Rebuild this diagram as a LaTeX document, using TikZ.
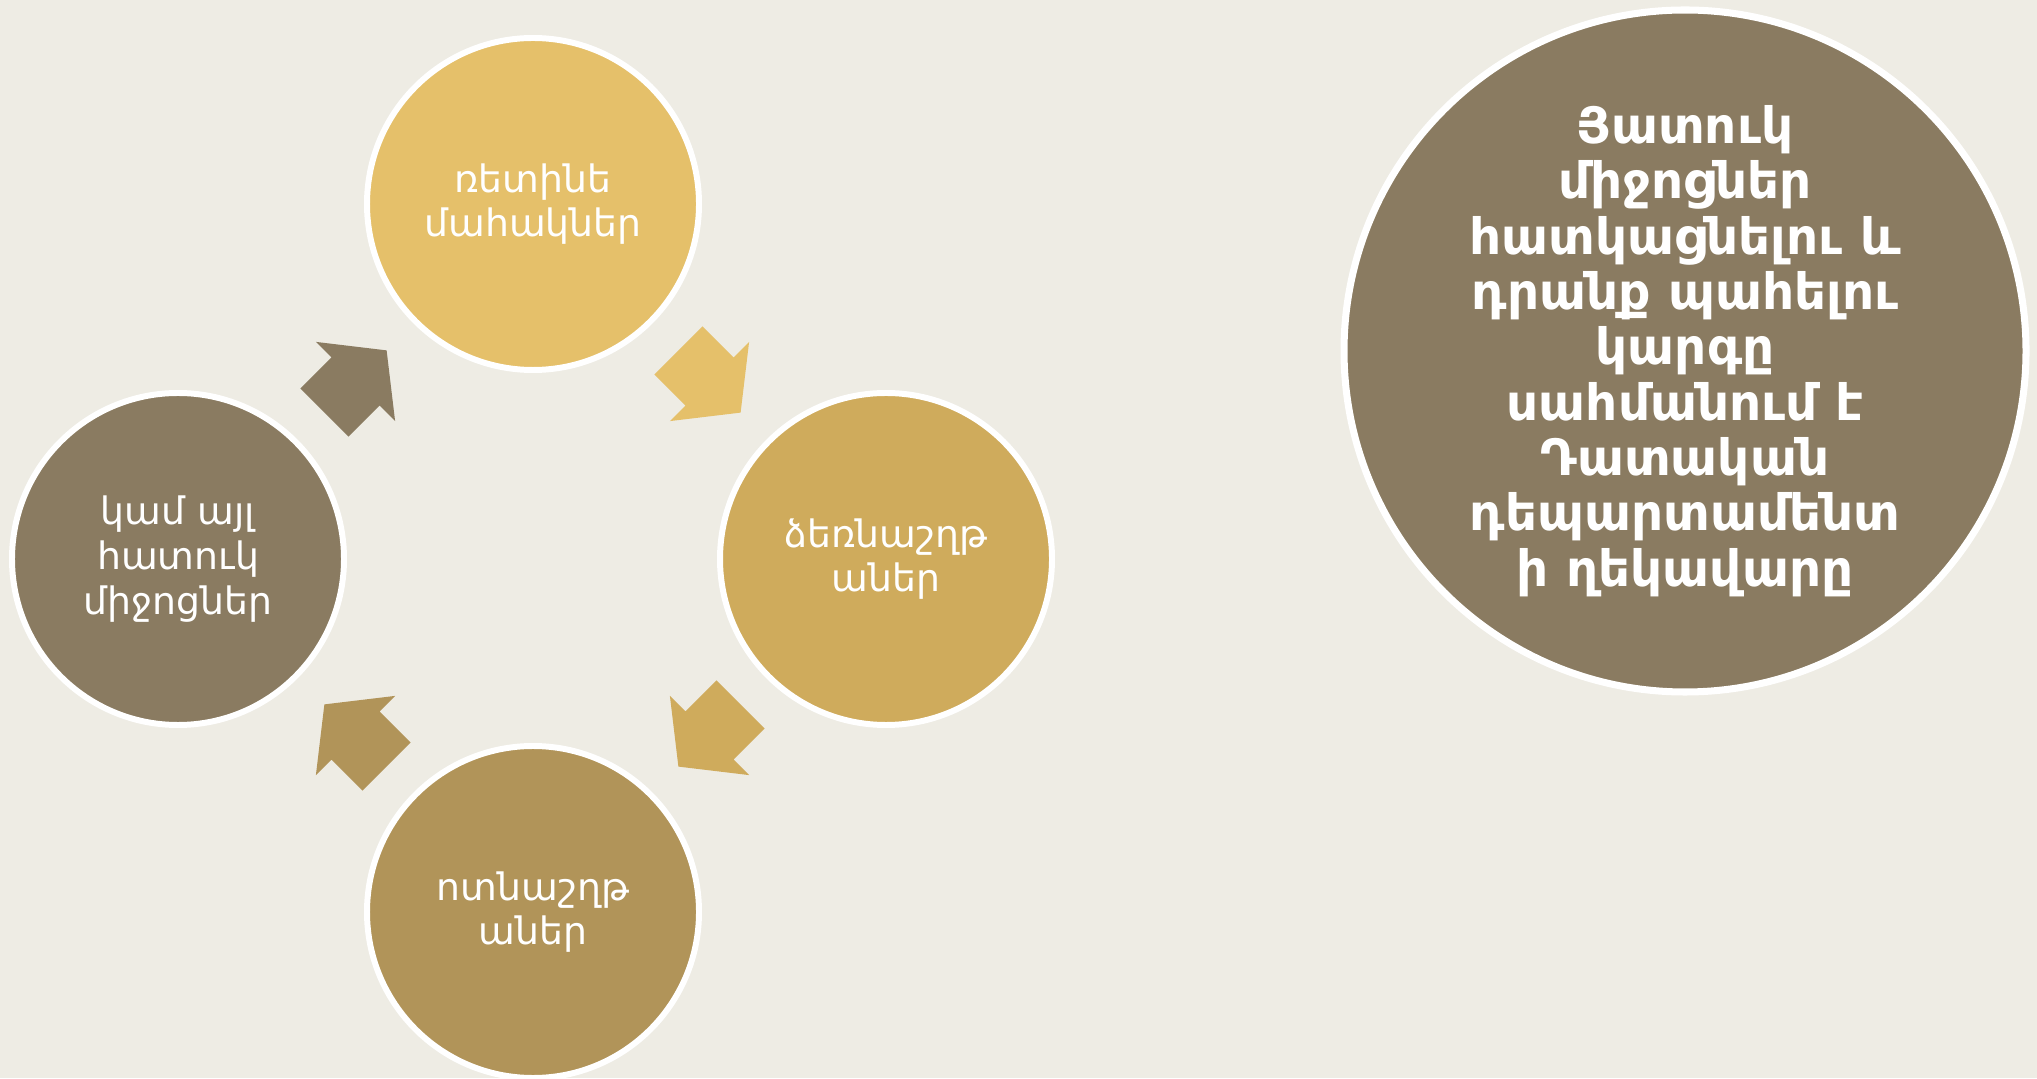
\documentclass[tikz,border=0pt]{standalone}
\usepackage{fontspec}
\setmainfont{DejaVu Sans}
\definecolor{bgcream}{RGB}{238,236,228}
\definecolor{goldlight}{RGB}{229,192,106}
\definecolor{goldmid}{RGB}{207,171,92}
\definecolor{golddark}{RGB}{177,148,89}
\definecolor{greybrown}{RGB}{138,123,97}
\usetikzlibrary{calc}

\begin{document}
\begin{tikzpicture}[
  stage/.style={circle,draw=white,line width=3.4pt,minimum size=6.64cm,inner sep=0pt,align=center,text=white,font=\fontsize{21.5}{25.5}\selectfont},
  blockarrow/.pic={\path[pic actions] (-0.88,-0.68) -- (0,-0.68) -- (0,-1.12) -- (0.88,0) -- (0,1.12) -- (0,0.68) -- (-0.88,0.68) -- cycle;}]
\fill[bgcream] (0,0) rectangle (40.74,21.56);
\useasboundingbox (0,0) rectangle (40.74,21.56);

\node[stage,fill=goldlight] (top) at (10.66,17.48) {ռետինե\\մահակներ};
\node[stage,fill=goldmid] (rgt) at (17.72,10.38) {ձեռնաշղթ\\աներ};
\node[stage,fill=golddark] (bot) at (10.66,3.32) {ոտնաշղթ\\աներ};
\node[stage,fill=greybrown] (lft) at (3.56,10.38) {կամ այլ\\հատուկ\\միջոցներ};

\pic[fill=greybrown,rotate=45] at ($(lft)!0.5!(top)$) {blockarrow};
\pic[fill=goldlight,rotate=-45] at ($(top)!0.5!(rgt)$) {blockarrow};
\pic[fill=goldmid,rotate=-135] at ($(rgt)!0.5!(bot)$) {blockarrow};
\pic[fill=golddark,rotate=135] at ($(bot)!0.5!(lft)$) {blockarrow};

\node[circle,draw=white,line width=4pt,minimum size=13.64cm,inner sep=0pt,fill=greybrown,align=center,text=white,font=\fontsize{28.5}{31.5}\selectfont\bfseries] (note) at (33.70,14.54) {Յատուկ\\միջոցներ\\հատկացնելու և\\դրանք պահելու\\կարգը\\սահմանում է\\Դատական\\դեպարտամենտ\\ի ղեկավարը};
\end{tikzpicture}
\end{document}
